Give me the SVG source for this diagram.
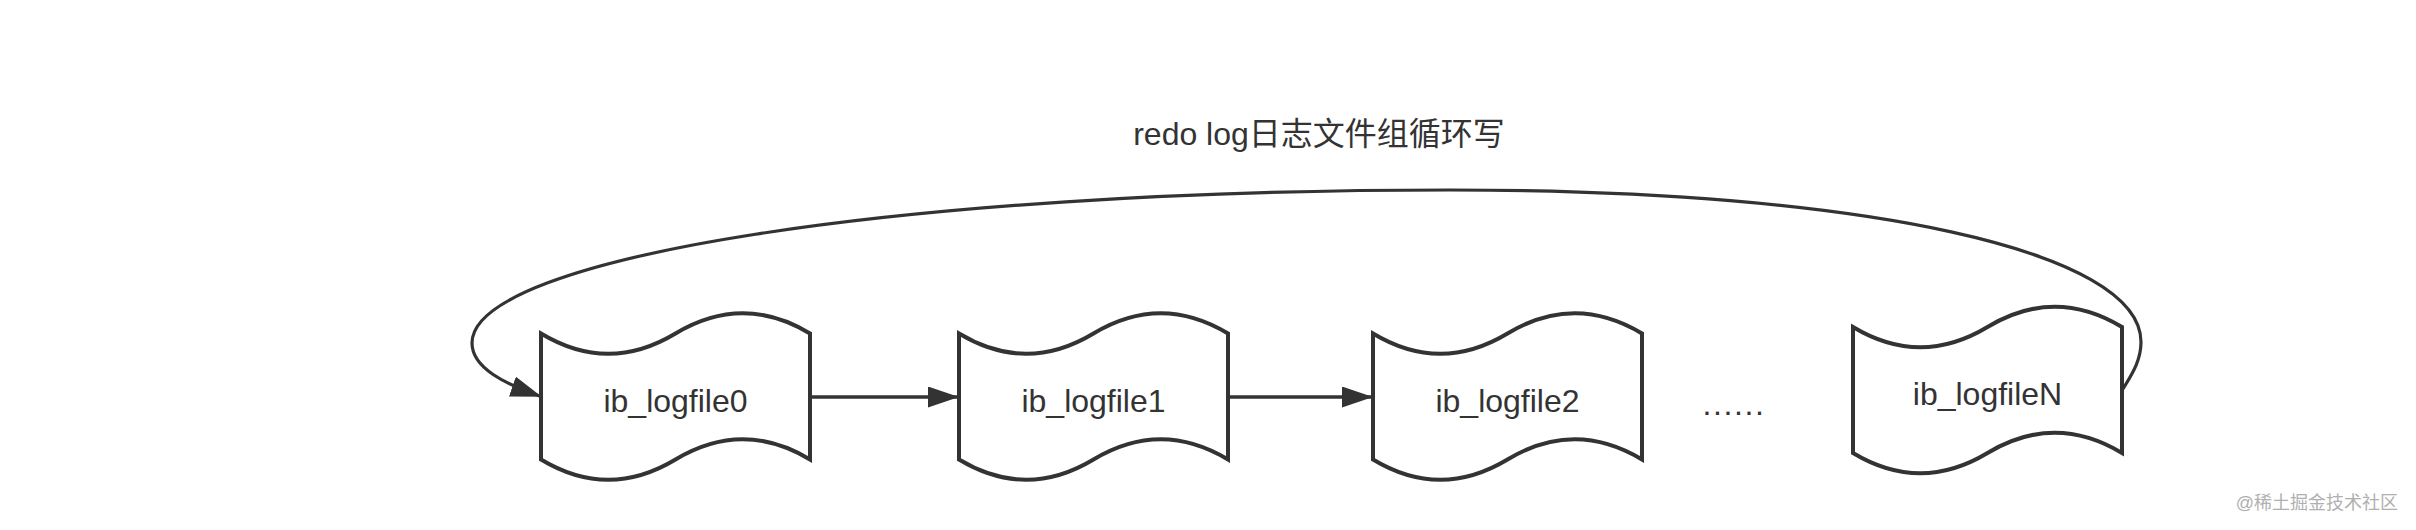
<svg xmlns="http://www.w3.org/2000/svg" width="2416" height="530" viewBox="0 0 2416 530">
  <style>
    .shape { fill: #ffffff; stroke: #333333; stroke-width: 4; }
    .edge { fill: none; stroke: #333333; stroke-width: 3.5; }
    .loop { fill: none; stroke: #333333; stroke-width: 3.2; }
    .label { font-family: "Liberation Sans", "Noto Sans CJK SC", sans-serif; font-size: 32px; fill: #333333; text-anchor: middle; }
    .mark { font-family: "Liberation Sans", "Noto Sans CJK SC", sans-serif; font-size: 18px; fill: #b0b0b0; text-anchor: end; }
  </style>
  <defs>
    <path id="tape" d="M0,22.5 Q67.25,63 134.5,22.5 Q201.75,-18 269,22.5 L269,148.5 Q201.75,108 134.5,148.5 Q67.25,189 0,148.5 Z"/>
    <marker id="arrow" markerUnits="userSpaceOnUse" markerWidth="32" markerHeight="22" refX="31" refY="10.5" orient="auto">
      <path d="M0,0 L31,10.5 L0,21 Z" fill="#333333"/>
    </marker>
  </defs>
  <rect width="2416" height="530" fill="#ffffff"/>

  <g id="title">
    <text class="label" x="1319" y="145">redo log日志文件组循环写</text>
  </g>

  <g id="connectors">
    <path class="edge" d="M810,397 L959,397" marker-end="url(#arrow)"/>
    <path class="edge" d="M1228,397 L1373,397" marker-end="url(#arrow)"/>
    <path class="loop" d="M2123,389 C2130,377 2141,362 2141,342 C2141,251 1865,190 1450,190 C902,190 472,257 472,343 C472,368 505,384 541.7,396.7" marker-end="url(#arrow)"/>
  </g>

  <g id="node0">
    <use href="#tape" class="shape" transform="translate(541,311)"/>
    <text class="label" x="675.5" y="412">ib_logfile0</text>
  </g>
  <g id="node1">
    <use href="#tape" class="shape" transform="translate(959,311)"/>
    <text class="label" x="1093.5" y="412">ib_logfile1</text>
  </g>
  <g id="node2">
    <use href="#tape" class="shape" transform="translate(1373,311)"/>
    <text class="label" x="1507.5" y="412">ib_logfile2</text>
  </g>
  <g id="ellipsis">
    <text class="label" x="1734" y="415" letter-spacing="1.6">......</text>
  </g>
  <g id="nodeN">
    <use href="#tape" class="shape" transform="translate(1853,304.5)"/>
    <text class="label" x="1987.5" y="405">ib_logfileN</text>
  </g>

  <g id="watermark">
    <text class="mark" x="2398" y="509">@稀土掘金技术社区</text>
  </g>
</svg>
